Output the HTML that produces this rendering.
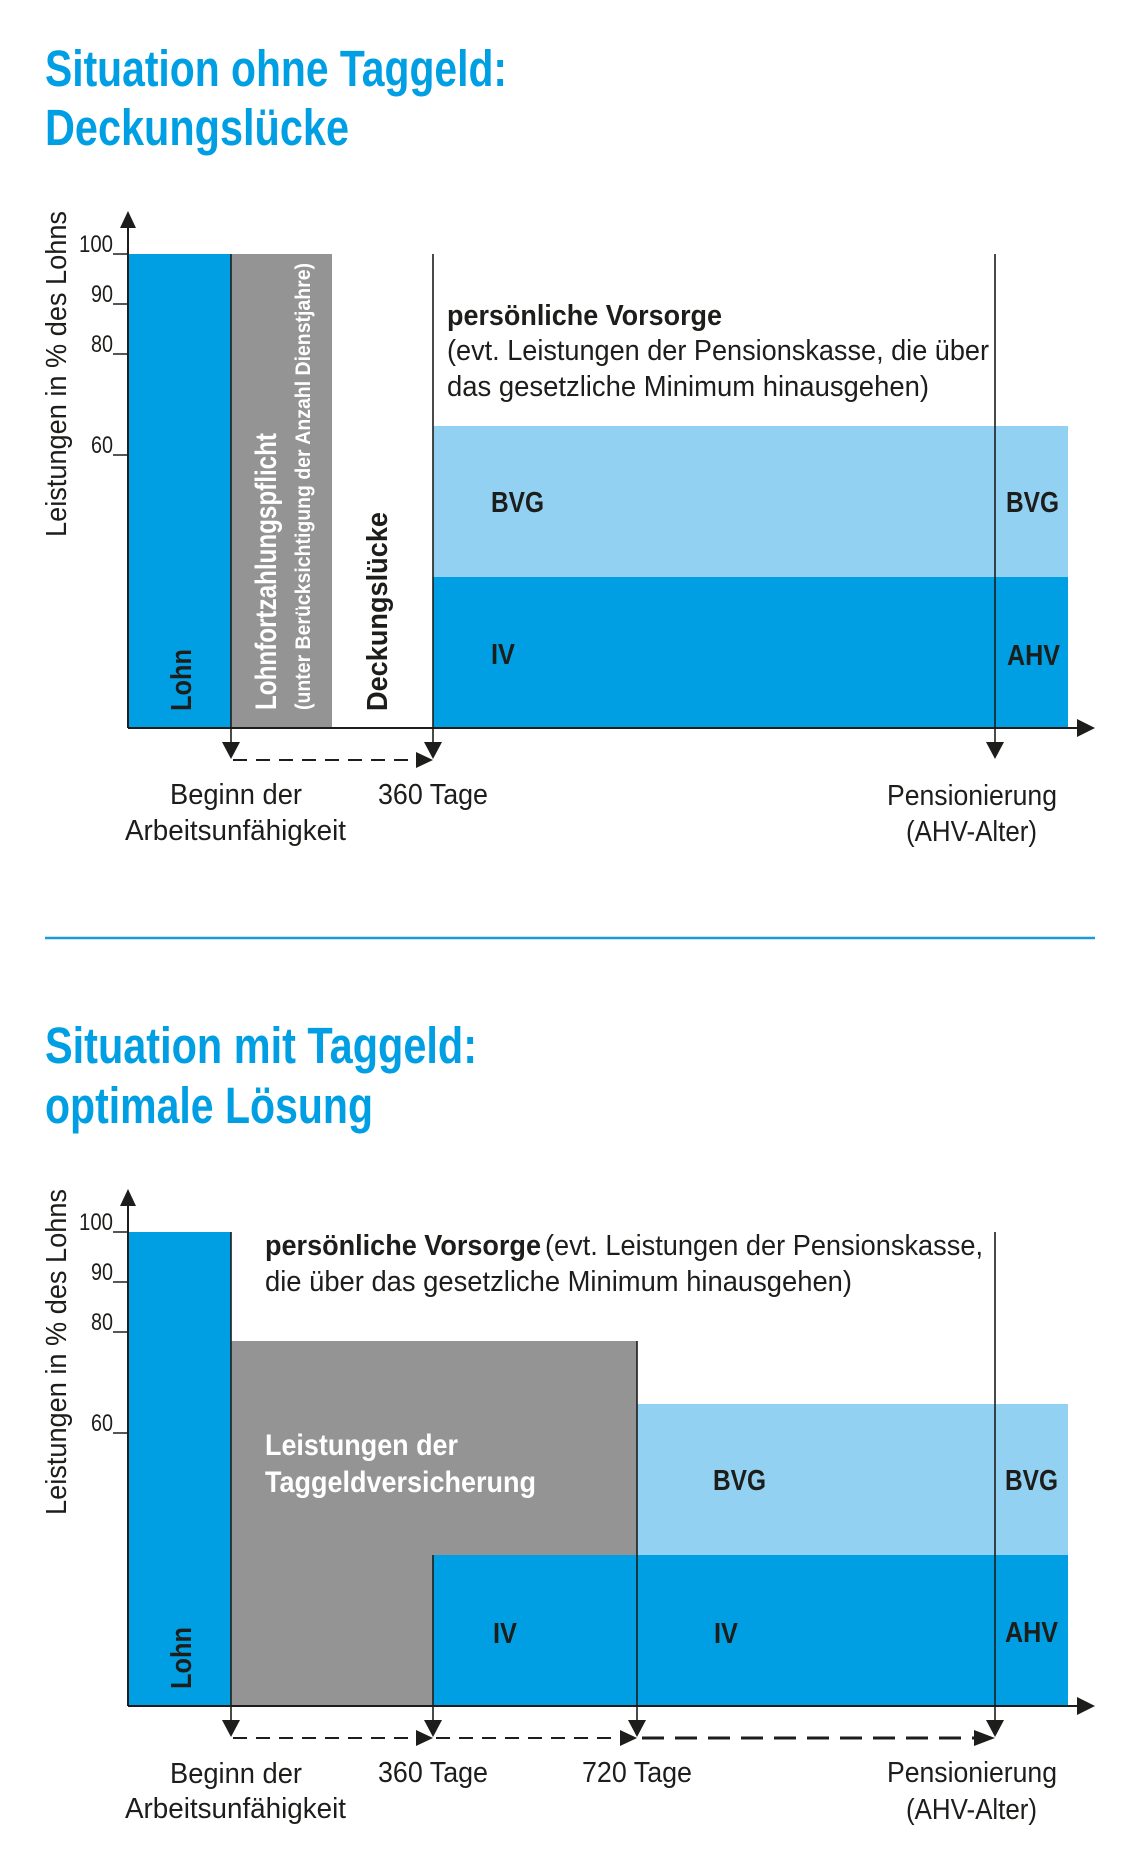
<!DOCTYPE html>
<html>
<head>
<meta charset="utf-8">
<style>
  html, body { margin: 0; padding: 0; background: #fff; }
  svg { display: block; }
  text { font-family: "Liberation Sans", sans-serif; }
  .t { fill: #009fe3; font-weight: bold; font-size: 51px; }
  .b { fill: #1d1d1b; font-weight: bold; font-size: 29px; }
  .r { fill: #1d1d1b; font-size: 29px; }
  .w { fill: #ffffff; font-weight: bold; }
  .tick { fill: #1d1d1b; font-size: 24px; }
</style>
</head>
<body>
<svg width="1140" height="1876" viewBox="0 0 1140 1876" xmlns="http://www.w3.org/2000/svg">
  <rect x="0" y="0" width="1140" height="1876" fill="#fff"/>

  <!-- ================= CHART 1 ================= -->
  <text class="t" x="45" y="86" textLength="462" lengthAdjust="spacingAndGlyphs">Situation ohne Taggeld:</text>
  <text class="t" x="45" y="145" textLength="304" lengthAdjust="spacingAndGlyphs">Deckungslücke</text>

  <!-- bars -->
  <rect x="128" y="254" width="103" height="474" fill="#009fe3"/>
  <rect x="231" y="254" width="101" height="474" fill="#949494"/>
  <rect x="433" y="426" width="635" height="151" fill="#92d1f1"/>
  <rect x="433" y="577" width="635" height="151" fill="#009fe3"/>

  <!-- y axis label -->
  <text class="r" font-size="30" transform="translate(66,537) rotate(-90)" textLength="326" lengthAdjust="spacingAndGlyphs">Leistungen in % des Lohns</text>

  <!-- ticks -->
  <text class="tick" x="113" y="252" text-anchor="end" textLength="34" lengthAdjust="spacingAndGlyphs">100</text>
  <text class="tick" x="113" y="302" text-anchor="end" textLength="22" lengthAdjust="spacingAndGlyphs">90</text>
  <text class="tick" x="113" y="352" text-anchor="end" textLength="22" lengthAdjust="spacingAndGlyphs">80</text>
  <text class="tick" x="113" y="453" text-anchor="end" textLength="22" lengthAdjust="spacingAndGlyphs">60</text>
  <g stroke="#1d1d1b" stroke-width="1.5">
    <line x1="113" y1="254" x2="128" y2="254"/>
    <line x1="113" y1="304" x2="128" y2="304"/>
    <line x1="113" y1="354" x2="128" y2="354"/>
    <line x1="113" y1="455" x2="128" y2="455"/>
  </g>

  <!-- axes -->
  <g stroke="#1d1d1b" stroke-width="2">
    <line x1="128" y1="728" x2="128" y2="224"/>
    <line x1="128" y1="728" x2="1080" y2="728"/>
  </g>
  <polygon points="128,211 120,228 136,228" fill="#1d1d1b"/>
  <polygon points="1095,728 1077,719 1077,737" fill="#1d1d1b"/>

  <!-- vertical markers -->
  <g stroke="#1d1d1b" stroke-width="1.6">
    <line x1="231" y1="254" x2="231" y2="745"/>
    <line x1="433" y1="254" x2="433" y2="745"/>
    <line x1="995" y1="254" x2="995" y2="745"/>
  </g>
  <polygon points="231,759 222,742 240,742" fill="#1d1d1b"/>
  <polygon points="433,759 424,742 442,742" fill="#1d1d1b"/>
  <polygon points="995,759 986,742 1004,742" fill="#1d1d1b"/>

  <!-- dashed -->
  <line x1="233" y1="760" x2="418" y2="760" stroke="#1d1d1b" stroke-width="2" stroke-dasharray="14 9"/>
  <polygon points="433,760 416,752 416,768" fill="#1d1d1b"/>

  <!-- rotated labels -->
  <text class="b" font-size="34" transform="translate(191,711) rotate(-90)" textLength="62" lengthAdjust="spacingAndGlyphs">Lohn</text>
  <text class="w" font-size="30" transform="translate(276,710) rotate(-90)" textLength="277" lengthAdjust="spacingAndGlyphs">Lohnfortzahlungspflicht</text>
  <text class="w" font-size="21" transform="translate(310,710) rotate(-90)" textLength="447" lengthAdjust="spacingAndGlyphs">(unter Berücksichtigung der Anzahl Dienstjahre)</text>
  <text class="b" font-size="34" transform="translate(387,711) rotate(-90)" textLength="199" lengthAdjust="spacingAndGlyphs">Deckungslücke</text>

  <!-- persönliche Vorsorge -->
  <text class="b" x="447" y="325" textLength="275" lengthAdjust="spacingAndGlyphs">persönliche Vorsorge</text>
  <text class="r" x="447" y="360" textLength="542" lengthAdjust="spacingAndGlyphs">(evt. Leistungen der Pensionskasse, die über</text>
  <text class="r" x="447" y="396" textLength="482" lengthAdjust="spacingAndGlyphs">das gesetzliche Minimum hinausgehen)</text>

  <!-- segment labels -->
  <text class="b" x="491" y="512" textLength="53" lengthAdjust="spacingAndGlyphs">BVG</text>
  <text class="b" x="1006" y="512" textLength="53" lengthAdjust="spacingAndGlyphs">BVG</text>
  <text class="b" x="491" y="664" textLength="24" lengthAdjust="spacingAndGlyphs">IV</text>
  <text class="b" x="1007" y="665" textLength="53" lengthAdjust="spacingAndGlyphs">AHV</text>

  <!-- x labels -->
  <text class="r" x="170" y="804" textLength="132" lengthAdjust="spacingAndGlyphs">Beginn der</text>
  <text class="r" x="125" y="840" textLength="221" lengthAdjust="spacingAndGlyphs">Arbeitsunfähigkeit</text>
  <text class="r" x="378" y="804" textLength="110" lengthAdjust="spacingAndGlyphs">360 Tage</text>
  <text class="r" x="887" y="805" textLength="170" lengthAdjust="spacingAndGlyphs">Pensionierung</text>
  <text class="r" x="906" y="841" textLength="131" lengthAdjust="spacingAndGlyphs">(AHV-Alter)</text>

  <!-- divider -->
  <line x1="45" y1="938" x2="1095" y2="938" stroke="#1a9ad6" stroke-width="2.5"/>

  <!-- ================= CHART 2 ================= -->
  <text class="t" x="45" y="1063" textLength="432" lengthAdjust="spacingAndGlyphs">Situation mit Taggeld:</text>
  <text class="t" x="45" y="1123" textLength="328" lengthAdjust="spacingAndGlyphs">optimale Lösung</text>

  <!-- bars -->
  <rect x="128" y="1232" width="103" height="474" fill="#009fe3"/>
  <rect x="231" y="1341" width="406" height="365" fill="#949494"/>
  <rect x="637" y="1404" width="431" height="151" fill="#92d1f1"/>
  <rect x="433" y="1555" width="635" height="151" fill="#009fe3"/>

  <!-- y axis label -->
  <text class="r" font-size="30" transform="translate(66,1515) rotate(-90)" textLength="326" lengthAdjust="spacingAndGlyphs">Leistungen in % des Lohns</text>

  <!-- ticks -->
  <text class="tick" x="113" y="1230" text-anchor="end" textLength="34" lengthAdjust="spacingAndGlyphs">100</text>
  <text class="tick" x="113" y="1280" text-anchor="end" textLength="22" lengthAdjust="spacingAndGlyphs">90</text>
  <text class="tick" x="113" y="1330" text-anchor="end" textLength="22" lengthAdjust="spacingAndGlyphs">80</text>
  <text class="tick" x="113" y="1431" text-anchor="end" textLength="22" lengthAdjust="spacingAndGlyphs">60</text>
  <g stroke="#1d1d1b" stroke-width="1.5">
    <line x1="113" y1="1232" x2="128" y2="1232"/>
    <line x1="113" y1="1282" x2="128" y2="1282"/>
    <line x1="113" y1="1332" x2="128" y2="1332"/>
    <line x1="113" y1="1433" x2="128" y2="1433"/>
  </g>

  <!-- axes -->
  <g stroke="#1d1d1b" stroke-width="2">
    <line x1="128" y1="1706" x2="128" y2="1202"/>
    <line x1="128" y1="1706" x2="1080" y2="1706"/>
  </g>
  <polygon points="128,1189 120,1206 136,1206" fill="#1d1d1b"/>
  <polygon points="1095,1706 1077,1697 1077,1715" fill="#1d1d1b"/>

  <!-- vertical markers -->
  <g stroke="#1d1d1b" stroke-width="1.6">
    <line x1="231" y1="1232" x2="231" y2="1723"/>
    <line x1="433" y1="1555" x2="433" y2="1723"/>
    <line x1="637" y1="1341" x2="637" y2="1723"/>
    <line x1="995" y1="1232" x2="995" y2="1723"/>
  </g>
  <polygon points="231,1737 222,1720 240,1720" fill="#1d1d1b"/>
  <polygon points="433,1737 424,1720 442,1720" fill="#1d1d1b"/>
  <polygon points="637,1737 628,1720 646,1720" fill="#1d1d1b"/>
  <polygon points="995,1737 986,1720 1004,1720" fill="#1d1d1b"/>

  <!-- dashed -->
  <line x1="233" y1="1738" x2="418" y2="1738" stroke="#1d1d1b" stroke-width="2" stroke-dasharray="14 9"/>
  <polygon points="433,1738 416,1730 416,1746" fill="#1d1d1b"/>
  <line x1="436" y1="1738" x2="622" y2="1738" stroke="#1d1d1b" stroke-width="2" stroke-dasharray="14 9"/>
  <polygon points="637,1738 620,1730 620,1746" fill="#1d1d1b"/>
  <line x1="642" y1="1738" x2="976" y2="1738" stroke="#1d1d1b" stroke-width="3" stroke-dasharray="22 11"/>
  <polygon points="995,1738 974,1730 974,1746" fill="#1d1d1b"/>

  <!-- rotated label -->
  <text class="b" font-size="34" transform="translate(191,1689) rotate(-90)" textLength="62" lengthAdjust="spacingAndGlyphs">Lohn</text>

  <!-- persönliche Vorsorge -->
  <text class="b" x="265" y="1255" textLength="276" lengthAdjust="spacingAndGlyphs">persönliche Vorsorge</text>
  <text class="r" x="545" y="1255" textLength="438" lengthAdjust="spacingAndGlyphs">(evt. Leistungen der Pensionskasse,</text>
  <text class="r" x="265" y="1291" textLength="587" lengthAdjust="spacingAndGlyphs">die über das gesetzliche Minimum hinausgehen)</text>

  <!-- Taggeld label -->
  <text class="w" font-size="30" x="265" y="1455" textLength="193" lengthAdjust="spacingAndGlyphs">Leistungen der</text>
  <text class="w" font-size="30" x="265" y="1492" textLength="271" lengthAdjust="spacingAndGlyphs">Taggeldversicherung</text>

  <!-- segment labels -->
  <text class="b" x="713" y="1490" textLength="53" lengthAdjust="spacingAndGlyphs">BVG</text>
  <text class="b" x="1005" y="1490" textLength="53" lengthAdjust="spacingAndGlyphs">BVG</text>
  <text class="b" x="493" y="1643" textLength="24" lengthAdjust="spacingAndGlyphs">IV</text>
  <text class="b" x="714" y="1643" textLength="24" lengthAdjust="spacingAndGlyphs">IV</text>
  <text class="b" x="1005" y="1642" textLength="53" lengthAdjust="spacingAndGlyphs">AHV</text>

  <!-- x labels -->
  <text class="r" x="170" y="1783" textLength="132" lengthAdjust="spacingAndGlyphs">Beginn der</text>
  <text class="r" x="125" y="1818" textLength="221" lengthAdjust="spacingAndGlyphs">Arbeitsunfähigkeit</text>
  <text class="r" x="378" y="1782" textLength="110" lengthAdjust="spacingAndGlyphs">360 Tage</text>
  <text class="r" x="582" y="1782" textLength="110" lengthAdjust="spacingAndGlyphs">720 Tage</text>
  <text class="r" x="887" y="1782" textLength="170" lengthAdjust="spacingAndGlyphs">Pensionierung</text>
  <text class="r" x="906" y="1819" textLength="131" lengthAdjust="spacingAndGlyphs">(AHV-Alter)</text>
</svg>
</body>
</html>
